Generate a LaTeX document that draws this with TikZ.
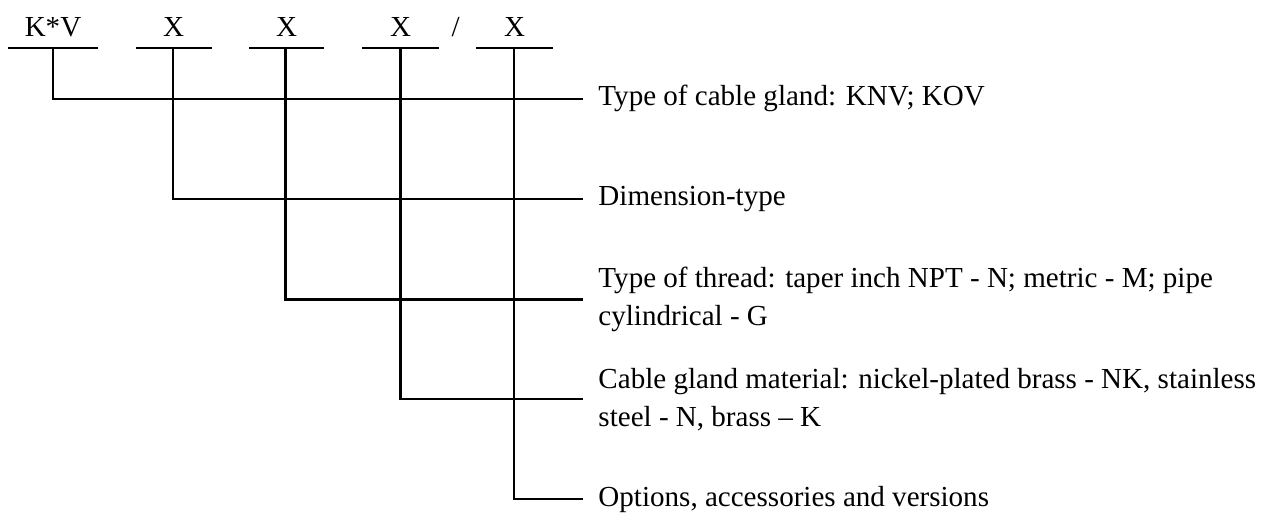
\documentclass[tikz,border=0pt]{standalone}
\usepackage{fontspec}
\setmainfont{Liberation Serif}

\tikzset{
    code/.style={font=\fontsize{11.1}{13}\selectfont, anchor=base, inner sep=0pt},
    legende/.style={font=\fontsize{11.1}{14.5}\selectfont, anchor=west, align=left, inner xsep=5.6pt, inner ysep=0pt},
    trait/.style={black, line width=0.8pt}
}

\begin{document}
\begin{tikzpicture}[x=0.382pt, y=-0.382pt]

    \useasboundingbox (0, 0) rectangle (1263, 512);

    % Codes de la désignation
    \node[code] (kv) at (53, 36.7) {K*V};
    \node[code] (x1) at (173.5, 36.7) {X};
    \node[code] (x2) at (286.5, 36.7) {X};
    \node[code] (x3) at (400.5, 36.7) {X};
    \node[code] (sl) at (455.7, 36.7) {/};
    \node[code] (x4) at (514.5, 36.7) {X};

    % Points sous les codes
    \coordinate (A) at (52.7, 47.7);
    \coordinate (B) at (173.3, 47.7);
    \coordinate (C) at (285.5, 47.7);
    \coordinate (D) at (400.5, 47.7);
    \coordinate (E) at (514.3, 47.7);

    % Soulignements
    \draw[trait] (8, 47.7) -- (97.7, 47.7);
    \draw[trait] (136, 47.7) -- (211.7, 47.7);
    \draw[trait] (249.3, 47.7) -- (324.3, 47.7);
    \draw[trait] (362, 47.7) -- (438.7, 47.7);
    \draw[trait] (476.3, 47.7) -- (552.7, 47.7);

    % Légendes
    \node[legende] (L1) at (583.3, 98.7) {Type of cable gland: KNV; KOV};
    \node[legende] (L2) at (583.3, 199) {Dimension-type};
    \node[legende] (L3) at (583.3, 299.5) {Type of thread: taper inch NPT - N; metric - M; pipe\\cylindrical - G};
    \node[legende] (L4) at (583.3, 399.3) {Cable gland material: nickel-plated brass - NK, stainless\\steel - N, brass -- K};
    \node[legende] (L5) at (583.3, 499.3) {Options, accessories and versions};

    % Renvois
    \draw[trait] (A) |- (L1.west);
    \draw[trait] (B) |- (L2.west);
    \draw[trait] (C) |- (L3.west);
    \draw[trait] (D) |- (L4.west);
    \draw[trait] (E) |- (L5.west);

\end{tikzpicture}
\end{document}
